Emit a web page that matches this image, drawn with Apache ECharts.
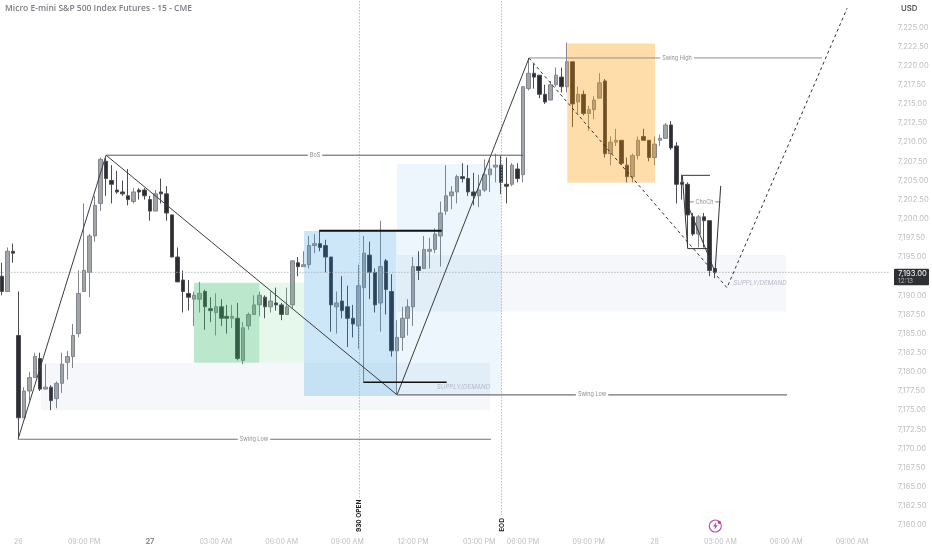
<!DOCTYPE html>
<html>
<head>
<meta charset="utf-8">
<style>html,body{margin:0;padding:0;background:#fff}#c{width:932px;height:550px}</style>
<script src="https://cdn.jsdelivr.net/npm/echarts@6/dist/echarts.min.js"></script>
</head>
<body>
<div id="c"></div>
<script>
// [open, close, lowest, highest], one row per 15-minute bar
const candles = [
[7192.5,7190.5,7190,7194.25],[7190.5,7195.75,7190.5,7196.25],[7195.75,7195.5,7194.25,7196.75],[7184.75,7174,7171.5,7190.5],
[7174,7177.5,7174,7178],[7177.5,7179.25,7176.25,7180],[7179.25,7182,7179.25,7182.5],[7181.75,7177.75,7177.5,7182.5],
[7177.75,7178,7177.75,7181],[7178,7176.25,7175,7178.25],[7176.5,7178.5,7175.25,7178.75],[7178.5,7181,7177.25,7182.5],
[7181.25,7182,7179,7182.75],[7182,7184.75,7180.5,7186.25],[7185,7190.25,7184.5,7193.25],[7190.5,7193.25,7190.5,7202],
[7193,7197.75,7189.75,7198],[7197.75,7201.75,7197,7203],[7202,7207.75,7201,7208],[7207.5,7205.25,7203,7208],
[7205,7204.5,7202,7207],[7203.75,7203.5,7203.25,7206.25],[7203.5,7203.25,7203,7205],[7203,7202.5,7201.75,7206.5],
[7202.25,7203.5,7202,7204],[7203.75,7203.5,7202.5,7204],[7203.75,7203,7202.5,7204],[7202.5,7201,7199.75,7203],
[7201,7203.25,7201,7203.75],[7203.5,7203.25,7202,7205.25],[7203.25,7200.75,7199.75,7204.25],[7200.5,7195,7195,7200.5],
[7195,7191.75,7191.75,7196.25],[7192,7190.5,7187.75,7193.25],[7190.25,7189.75,7188,7192],[7189.5,7190,7186,7190.5],
[7189.5,7190.25,7187.75,7191.75],[7190.5,7188.5,7185.5,7190.75],[7188.25,7188,7186.5,7189.75],[7187.75,7188.5,7184.75,7190.25],
[7188.5,7187,7186,7189.5],[7187.25,7187,7185,7188.75],[7187,7187.25,7185.75,7188.75],[7187,7181.75,7181.5,7189],
[7181.5,7185.75,7181,7186.5],[7186,7187.5,7185.5,7187.75],[7187.5,7188.75,7187.5,7190],[7188.75,7190,7187.25,7190.5],
[7189.75,7188.5,7187,7190],[7188.5,7189.25,7187.75,7190.5],[7189,7188.75,7188,7191],[7188.75,7187.5,7186.75,7189],
[7187.5,7188.5,7187.5,7191],[7188.75,7194.5,7188.25,7194.5],[7194.25,7193.75,7192.5,7195],[7193.75,7194,7193.75,7195.75],
[7194,7196.5,7193.5,7197.75],[7196.5,7196.75,7195.5,7198],[7196.75,7196.25,7195.75,7198.5],[7196.5,7195,7193,7197.25],
[7195,7188.75,7185.25,7195],[7188.5,7189,7185,7190.5],[7189.25,7188,7187,7192.5],[7188.5,7187,7183.25,7191.25],
[7187,7186.25,7184.5,7188.75],[7186,7191.25,7183,7194],[7191,7195.5,7178.75,7197.75],[7195.25,7193,7189.5,7197],
[7193,7188.75,7187.75,7193.5],[7189,7193.75,7185.25,7199.75],[7194.5,7190.75,7187.5,7194.75],[7190.5,7182.75,7182,7192.75],
[7182.75,7184.5,7177,7186.75],[7184.5,7187,7182.75,7188.5],[7187,7188.5,7184.75,7189.5],[7188.5,7193.75,7186,7195],
[7193.75,7193.25,7192,7195.75],[7193.5,7196,7193.5,7197.75],[7195.75,7196,7193.5,7197.5],[7196,7198,7195.5,7198.75],
[7197.75,7200.75,7193.75,7202.25],[7201,7203,7200.5,7207],[7203,7203.5,7201.25,7204.25],[7203.5,7205.5,7202,7205.75],
[7205.5,7205.25,7204.75,7207.25],[7205.25,7203.5,7203,7207],[7203.5,7203,7201.75,7206],[7203,7203.75,7201.5,7205.75],
[7203.75,7205.75,7203.5,7207.75],[7205.75,7206.5,7203.5,7207.75],[7206.75,7207,7204.75,7208.5],[7207,7204.75,7203.25,7208.25],
[7204.5,7204.25,7202,7208],[7204.5,7207,7204.25,7207.25],[7206.5,7205.25,7204.75,7207.25],[7205.75,7217.25,7204.75,7217.25],
[7217,7219,7216.75,7221],[7219,7218.5,7217,7220.25],[7218.75,7216.25,7215.75,7218.75],[7216.25,7215.25,7215,7217.5],
[7215.5,7217.5,7215.5,7218],[7217.5,7218.75,7217.25,7219.75],[7218.5,7217.25,7216.5,7219.75],[7217.25,7220.5,7216.5,7223],
[7220.5,7215,7212,7220.5],[7215.25,7216.25,7213.75,7217.25],[7216.25,7213.75,7213.5,7216.75],[7213.75,7214.25,7211.5,7214.75],
[7214.25,7215.5,7213,7216],[7215.75,7217.75,7215.75,7219],[7218,7208.5,7208,7218.25],[7208.5,7210,7207,7210.75],
[7210,7210.25,7209.5,7211.75],[7210.25,7207.25,7207,7210.25],[7207,7205.5,7204.75,7208],[7205.5,7208.25,7204.75,7208.5],
[7208.25,7210.25,7207.75,7210.75],[7210.75,7210.25,7210.25,7211.75],[7210.25,7208,7207.5,7210.25],[7208,7209.75,7207,7210.75],
[7210.25,7210.5,7209.5,7211],[7210.5,7212.25,7210.5,7212.5],[7212.25,7209.25,7209,7212.75],[7209.5,7204.5,7202,7210],
[7204.75,7204.5,7202.5,7205.75],[7204.5,7200.5,7196.25,7204.75],[7200.25,7198,7197.75,7200.75],[7198,7200.25,7196.25,7200.5],
[7200.25,7199.75,7196.25,7200.75],[7199.75,7193.25,7192.5,7199.75],[7193.5,7193,7192.25,7193.5]
];
const barCount = 162;
const tickBars = [3,15,27,39,51,63,75,87,95,107,119,131,143,155];
const tickTexts = ['26','09:00 PM','27','03:00 AM','06:00 AM','09:00 AM','12:00 PM','03:00 PM','06:00 PM','09:00 PM','28','03:00 AM','06:00 AM','09:00 AM'];
const hiddenPriceTicks = [7192.5,7227.5];

// zones: [fromBar, toBar, priceA, priceB]
const zoneDemandLeft = [7.14,89,7181.15,7175];
const zoneDemandRight = [72.05,142.96,7195.25,7187.9];
const zoneGreen = [35.03,46.94,7191.65,7181.2];
const zoneGreenFade = [46.94,55.09,7191.65,7181.2];
const zoneBlue = [55.09,71.95,7198.4,7176.85];
const zoneBlueFade = [72.05,91.09,7207.15,7176.85];
const zoneOrange = [103.09,119.08,7222.9,7204.7];

// polylines: [bar, price]
const swingUpA = [[2.95,7171.2],[19,7208.3]];
const swingDown = [[19,7208.3],[72.05,7177]];
const swingUpB = [[72.05,7177],[96.11,7221]];
const projection = [[96.11,7221],[132.2,7191],[154.1,7227.5]];
const bosLine = [[19,7208.3],[95.02,7208.3]];
const swingHighLine = [[96.11,7221],[149.53,7221]];
const swingLowA = [[2.95,7171.2],[89.18,7171.2]];
const swingLowB = [[72.05,7177],[143.15,7177]];
const thickHigh = [[57.88,7198.44],[80.2,7198.44]];
const thickLow = [[65.9,7178.64],[81.1,7178.64]];
const chochBox = [[129.1,7205.67],[124.06,7205.67],[125.04,7196.1],[128.92,7196.1]];
const chochDrop = [[124.9,7202.05],[130.02,7193.05],[131.06,7204.3]];
const chochLine = [[125.46,7202.2],[131.06,7202.2]];
const lastPriceLine = [[-0.5,7193],[162.7,7193]];
const openLine = [[65.2,7230],[65.2,7163.5]];
const eodLine = [[91.1,7230],[91.1,7161.3]];

// text labels: [bar, price, text]
const lineLabels = [[57.1,7208.3,'BoS'],[123.09,7221,'Swing High'],[45.97,7171.2,'Swing Low'],[107.6,7177,'Swing Low'],[128.1,7202.2,'ChoCh']];
const zoneLabels = [[84.17,7178,'SUPPLY/DEMAND'],[138.22,7191.6,'SUPPLY/DEMAND']];
const rotatedLabels = [[65.07,7161.2,'930 OPEN'],[91.13,7160,'EOD']];
const titleText = 'Micro E-mini S&P 500 Index Futures - 15 - CME';
const lastPriceText = '7,193.00';
const countdownText = '12:13';

const categories = Array.from({length:barCount},(_,i)=>{const k=tickBars.indexOf(i);return k>=0?tickTexts[k]:''});
const chart = echarts.init(document.getElementById('c'),null,{renderer:'canvas'});

function lineSeries(pts,color,width,type){
  return {type:'line',xAxisIndex:1,yAxisIndex:0,data:pts,showSymbol:false,symbol:'none',silent:true,clip:false,z:6,
    lineStyle:{color:color,width:width,type:type||'solid'},animation:false};
}
const zoneStyle = [
 [zoneDemandLeft,'rgba(120,135,190,0.07)'],[zoneDemandRight,'rgba(120,135,190,0.07)'],
 [zoneGreen,'rgba(60,190,110,0.35)'],[zoneGreenFade,'rgba(60,190,110,0.13)'],
 [zoneBlue,'rgba(40,150,225,0.23)'],[zoneBlueFade,'rgba(40,150,225,0.09)'],
 [zoneOrange,'rgba(255,152,0,0.33)']
];
const zoneSeries = {type:'custom',xAxisIndex:1,yAxisIndex:0,silent:true,z:4,clip:false,
  data:zoneStyle.map(z=>z[0]),
  renderItem(p,api){
    const a=api.coord([api.value(0),api.value(2)]),b=api.coord([api.value(1),api.value(3)]);
    return {type:'rect',shape:{x:a[0],y:a[1],width:b[0]-a[0],height:b[1]-a[1]},style:{fill:zoneStyle[p.dataIndex][1]}};
  }};
function textSeries(rows,styleFn,z){
  return {type:'custom',xAxisIndex:1,yAxisIndex:0,silent:true,z:z,clip:false,data:rows.map(r=>[r[0],r[1]]),
    renderItem(p,api){
      const c=api.coord([api.value(0),api.value(1)]);
      return styleFn(rows[p.dataIndex][2],c);
    }};
}
const option = {
  backgroundColor:'#ffffff',animation:false,
  grid:{left:-0.9,width:888.6,top:8.2,height:516.8,containLabel:false,outerBoundsMode:'none'},
  xAxis:[
    {type:'category',data:categories,axisLine:{show:false},axisTick:{show:false},splitLine:{show:false},
     axisLabel:{interval:(i)=>tickBars.indexOf(i)>=0,margin:13,hideOverlap:false,color:'#bcbec3',
       fontFamily:'Inter',fontSize:7,
       formatter:(v)=>v==='27'?'{b|27}':v,rich:{b:{fontWeight:'bold',color:'#8a8d92',fontFamily:'Inter',fontSize:7.5}}}},
    {type:'value',show:false,min:-0.5,max:161.5,splitLine:{show:false}}
  ],
  yAxis:[{type:'value',position:'right',min:7160,max:7227.5,interval:2.5,axisLine:{show:false},axisTick:{show:false},splitLine:{show:false},
    axisLabel:{margin:10,color:'#bcbec3',fontFamily:'Inter',fontSize:7.6,verticalAlign:'middle',
      formatter:(v)=>hiddenPriceTicks.indexOf(v)>=0?'':v.toLocaleString('en-US',{minimumFractionDigits:2,maximumFractionDigits:2})}}],
  series:[
    {type:'candlestick',xAxisIndex:0,yAxisIndex:0,data:candles,barWidth:4,z:2,silent:true,
     itemStyle:{color:'#a2a5a9',borderColor:'#82868a',color0:'#2b2d33',borderColor0:'#4a4c52',borderWidth:1}},
    zoneSeries,
    lineSeries(lastPriceLine,'#a8aaae',0.8,[1.5,1.5]),
    lineSeries(openLine,'#a8aaae',0.8,[1.5,1.5]),
    lineSeries(eodLine,'#a8aaae',0.8,[1.5,1.5]),
    lineSeries(swingUpA,'#3a3c40',1),
    lineSeries(swingDown,'#3a3c40',1),
    lineSeries(swingUpB,'#3a3c40',1),
    lineSeries(projection,'#2e3034',1,[3,3]),
    lineSeries(bosLine,'#55585c',1),
    lineSeries(swingHighLine,'#8b8e92',1),
    lineSeries(swingLowA,'#6f7276',1.2),
    lineSeries(swingLowB,'#6f7276',1.2),
    lineSeries(thickHigh,'#111214',2),
    lineSeries(thickLow,'#111214',1.6),
    lineSeries(chochBox,'#333538',1),
    lineSeries(chochDrop,'#333538',1),
    lineSeries(chochLine,'#55585c',0.8),
    textSeries(lineLabels,(t,c)=>({type:'text',x:c[0],y:c[1],style:{text:t,align:'center',verticalAlign:'middle',
       fill:'#8a8d92',font:'5.5px Inter',backgroundColor:'#ffffff',padding:[0,2]}}),8),
    textSeries(zoneLabels,(t,c)=>({type:'text',x:c[0],y:c[1],style:{text:t,align:'center',verticalAlign:'middle',
       fill:'#b4b9c6',font:'italic 6.2px Inter'}}),8),
    textSeries(rotatedLabels,(t,c)=>({type:'text',x:c[0],y:c[1],rotation:Math.PI/2,style:{text:t,align:'center',verticalAlign:'middle',
       fill:'#1c1d20',font:'bold 6.5px Inter'}}),8)
  ],
  graphic:[
    {type:'text',left:5,top:4,style:{text:titleText,fill:'#7b7e85',font:'600 8.5px "Open Sans"'}},
    {type:'text',left:901,top:5,style:{text:'USD',fill:'#55585c',font:'600 7.8px Inter'}},
    {type:'rect',left:894,top:268.7,shape:{width:35,height:16.6,r:1},style:{fill:'#2e3034'},z:20},
    {type:'text',left:898,top:270,z:21,style:{text:lastPriceText,fill:'#ffffff',font:'7.6px Inter'}},
    {type:'text',left:898,top:278,z:21,style:{text:countdownText,fill:'#b5b7bb',font:'6.5px Inter'}},
    {type:'circle',shape:{cx:715.3,cy:526,r:6},style:{fill:'none',stroke:'#a64fc4',lineWidth:1.1}},
    {type:'polygon',shape:{points:[[716.3,522],[713,526.5],[715,526.5],[714.3,530],[717.6,525.3],[715.6,525.3]]},style:{fill:'#a64fc4'}},
    {type:'circle',shape:{cx:719.3,cy:522.3,r:1.6},style:{fill:'#e5383b'}}
  ]
};
chart.setOption(option);
</script>
</body>
</html>
